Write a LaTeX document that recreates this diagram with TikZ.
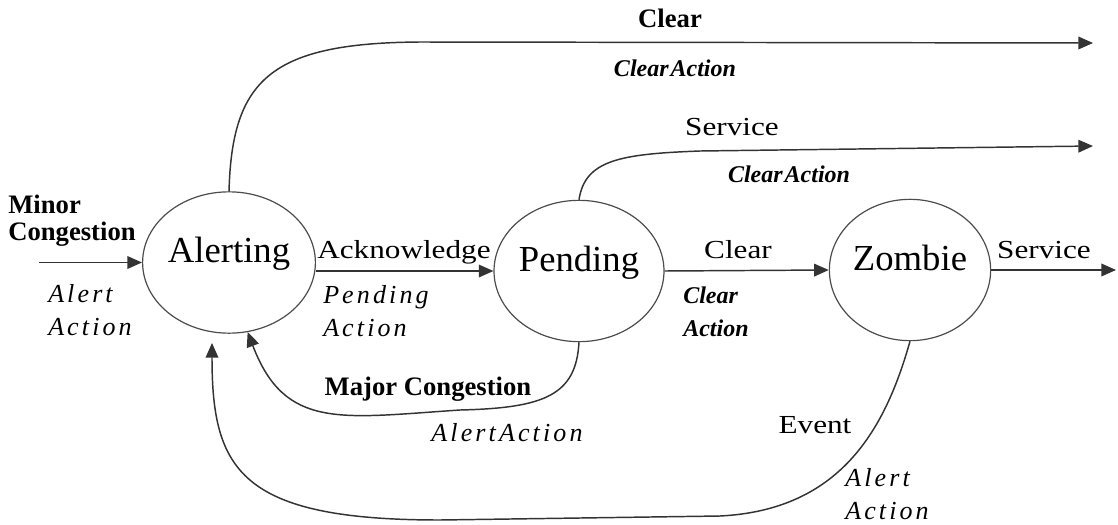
\documentclass[tikz,border=0pt]{standalone}
\usepackage{fontspec}
\setmainfont{Liberation Serif}
\newfontfamily\lblfont[FakeStretch=1.2]{Liberation Serif}
\newfontfamily\spit[LetterSpace=12]{Liberation Serif}
\usetikzlibrary{arrows.meta,shapes.geometric}
\tikzset{
  state/.style={ellipse, draw=black!70, line width=0.9pt, minimum width=114pt,
    minimum height=106pt, inner sep=0pt,
    font=\fontsize{27.5pt}{30pt}\selectfont, text height=12pt, text depth=12pt},
  conn/.style={draw=black!80, line width=1.1pt, -{Triangle[length=11pt,width=9.5pt]}},
  lbl/.style={inner sep=0pt, font=\lblfont\fontsize{19.5pt}{22pt}\selectfont},
  itl/.style={inner sep=0pt, align=left, font=\spit\itshape\fontsize{19.5pt}{24.75pt}\selectfont},
  bld/.style={inner sep=0pt, align=left, font=\bfseries\fontsize{20pt}{20.25pt}\selectfont},
  bit/.style={inner sep=0pt, align=left, font=\bfseries\itshape\fontsize{18pt}{24.75pt}\selectfont}
}
\begin{document}
\begin{tikzpicture}[x=0.75pt,y=-0.75pt]
\useasboundingbox (0,0) rectangle (1118,525);
% states
\node[state] (alert) at (229,262.5) {Alerting};
\node[state] (pend)  at (579,271) {Pending};
\node[state] (zomb)  at (910,270) {Zombie};
% free ends
\coordinate (inp)    at (39,262.5);
\coordinate (topend) at (1093,43);
\coordinate (svend)  at (1093,146);
\coordinate (zsend)  at (1116,270);
\coordinate (evend)  at (212,343);
% connectors
\draw[conn] (inp) -- (alert.west);
\draw[conn] (alert.east |- pend.west) -- (pend.west);
\draw[conn] (pend.east) -- (zomb.west);
\draw[conn] (zomb.east) -- (zsend);
\draw[conn] (alert.north) .. controls (232,80) and (270,43) .. (420,42) -- (topend);
\draw[conn] (pend.north) .. controls (585,160) and (620,154) .. (700,151) -- (svend);
\draw[conn] (pend.south) .. controls (576,395) and (545,408) .. (460,410)
   .. controls (340,418) and (285,430) .. (alert.-75);
\draw[conn] (zomb.south) .. controls (885,430) and (840,510) .. (720,516) -- (440,520)
   .. controls (240,520) and (212,470) .. (evend);
% labels
\node[bld, anchor=west] (lminor) at (8,221) {Minor\\Congestion};
\node[itl, anchor=west] (lalert1) at (48,310) {Alert\\Action};
\node[lbl, anchor=base] (lack) at (404,258) {Acknowledge};
\node[itl, anchor=west] (lpend) at (323,311) {Pending\\Action};
\node[lbl, anchor=base] (lclr) at (738,258) {Clear};
\node[bit, anchor=west] (lclra) at (683,312) {Clear\\Action};
\node[lbl, anchor=base] (lsvc) at (1044,258) {Service};
\node[bld, anchor=base] (ltopclr) at (670,27) {Clear};
\node[bit, anchor=base] (ltopca) at (675,76) {Clear\kern1.5pt Action};
\node[lbl, anchor=base] (lsvtop) at (732,135) {Service};
\node[bit, anchor=base] (lsvca) at (789,182) {Clear\kern1.5pt Action};
\node[bld, anchor=base] (lmajor) at (428,395) {Major Congestion};
\node[itl, anchor=base] (lalert2) at (507,441) {AlertAction};
\node[lbl, anchor=base] (levent) at (815,433) {Event};
\node[itl, anchor=west] (lalert3) at (845,494) {Alert\\Action};
\end{tikzpicture}
\end{document}
